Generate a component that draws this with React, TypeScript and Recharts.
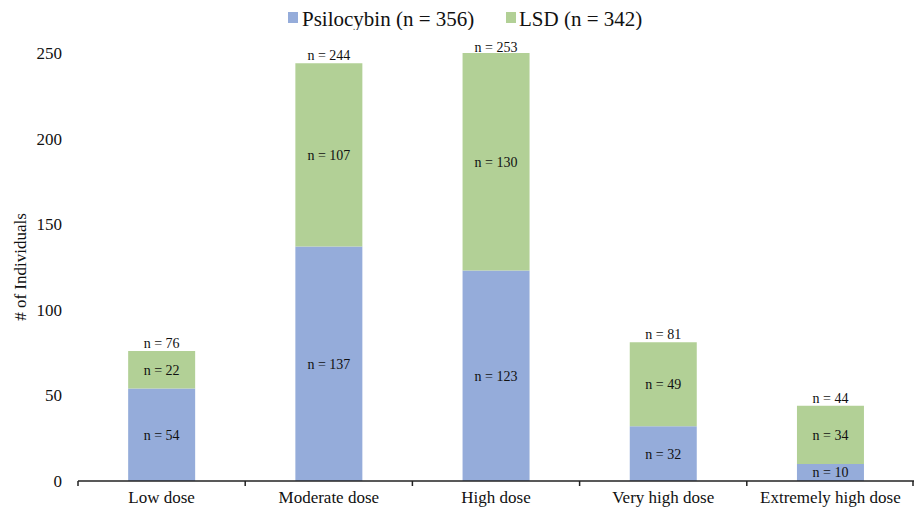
import { BarChart, Bar, XAxis, YAxis, Legend, LabelList } from "recharts"

const categories = ["Low dose", "Moderate dose", "High dose", "Very high dose", "Extremely high dose"]
const psilocybin = [54, 137, 123, 32, 10]
const lsd = [22, 107, 130, 49, 34]
const totals = [76, 244, 253, 81, 44]
const yTicks = [0, 50, 100, 150, 200, 250]

const seriesNames = { psilocybin: "Psilocybin (n = 356)", lsd: "LSD (n = 342)" }
const colors = { psilocybin: "#95acda", lsd: "#b2d096" }

const W = 914
const H = 512
const LEFT = 78
const TOP = 53
const FONT = "'Liberation Serif', 'Times New Roman', serif"
const band = (W - LEFT) / categories.length

const data = categories.map((name, i) => ({
  name,
  psilocybin: psilocybin[i],
  lsd: lsd[i],
  total: totals[i],
}))

function CategoryTick(props: any) {
  const { x, y, payload, index } = props
  const left = x - band / 2
  const right = x + band / 2
  return (
    <g>
      <line x1={left} y1={y - 8} x2={left} y2={y - 3} stroke="#222" strokeWidth={1.5} />
      {index === categories.length - 1 && (
        <line x1={right - 1} y1={y - 8} x2={right - 1} y2={y - 3} stroke="#222" strokeWidth={1.5} />
      )}
      <text x={x} y={y + 14} textAnchor="middle" fontFamily={FONT} fontSize={17} fill="#111">
        {payload.value}
      </text>
    </g>
  )
}

function TotalLabel(props: any) {
  const { x, y, width, index } = props
  const top = Math.max(y, TOP + 2)
  return (
    <text x={x + width / 2} y={top - 3} textAnchor="middle" fontFamily={FONT} fontSize={14} fill="#111">
      {`n = ${totals[index]}`}
    </text>
  )
}

function LegendContent() {
  const items = [
    { key: "psilocybin", label: seriesNames.psilocybin, color: colors.psilocybin },
    { key: "lsd", label: seriesNames.lsd, color: colors.lsd },
  ]
  return (
    <svg width={W} height={30} style={{ display: "block" }}>
      <rect x={288} y={12} width={10} height={11} fill={items[0].color} />
      <text x={302} y={26} fontFamily={FONT} fontSize={21} fill="#111">
        {items[0].label}
      </text>
      <rect x={506} y={12} width={10} height={11} fill={items[1].color} />
      <text x={519} y={26} fontFamily={FONT} fontSize={21} fill="#111">
        {items[1].label}
      </text>
    </svg>
  )
}

export default function App() {
  return (
    <div style={{ position: "absolute", left: 0, top: 0, width: W, height: H, background: "#fff" }}>
      <BarChart width={W} height={H} data={data} barCategoryGap="30%" margin={{ top: 0, right: 0, bottom: 0, left: 0 }}>
        <Legend verticalAlign="top" height={TOP} content={<LegendContent />} wrapperStyle={{ top: 0, left: 0 }} />
        <XAxis
          dataKey="name"
          height={31}
          axisLine={{ stroke: "#222", strokeWidth: 1.5 }}
          tickLine={false}
          tick={<CategoryTick />}
          interval={0}
        />
        <YAxis
          width={LEFT}
          domain={[0, 250]}
          ticks={yTicks}
          allowDataOverflow
          axisLine={false}
          tickLine={false}
          tickMargin={10}
          tick={{ fontFamily: FONT, fontSize: 17, fill: "#111" }}
          label={{
            value: "# of Individuals",
            angle: -90,
            position: "center",
            dx: -19,
            style: { fontFamily: FONT, fontSize: 17, fill: "#111", textAnchor: "middle" },
          }}
        />
        <Bar dataKey="psilocybin" stackId="a" fill={colors.psilocybin} isAnimationActive={false}>
          <LabelList
            dataKey="psilocybin"
            position="center"
            formatter={(v: any) => `n = ${v}`}
            style={{ fontFamily: FONT, fontSize: 14, fill: "#111" }}
          />
        </Bar>
        <Bar dataKey="lsd" stackId="a" fill={colors.lsd} isAnimationActive={false}>
          <LabelList
            dataKey="lsd"
            position="center"
            formatter={(v: any) => `n = ${v}`}
            style={{ fontFamily: FONT, fontSize: 14, fill: "#111" }}
          />
          <LabelList dataKey="total" content={<TotalLabel />} />
        </Bar>
      </BarChart>
    </div>
  )
}
